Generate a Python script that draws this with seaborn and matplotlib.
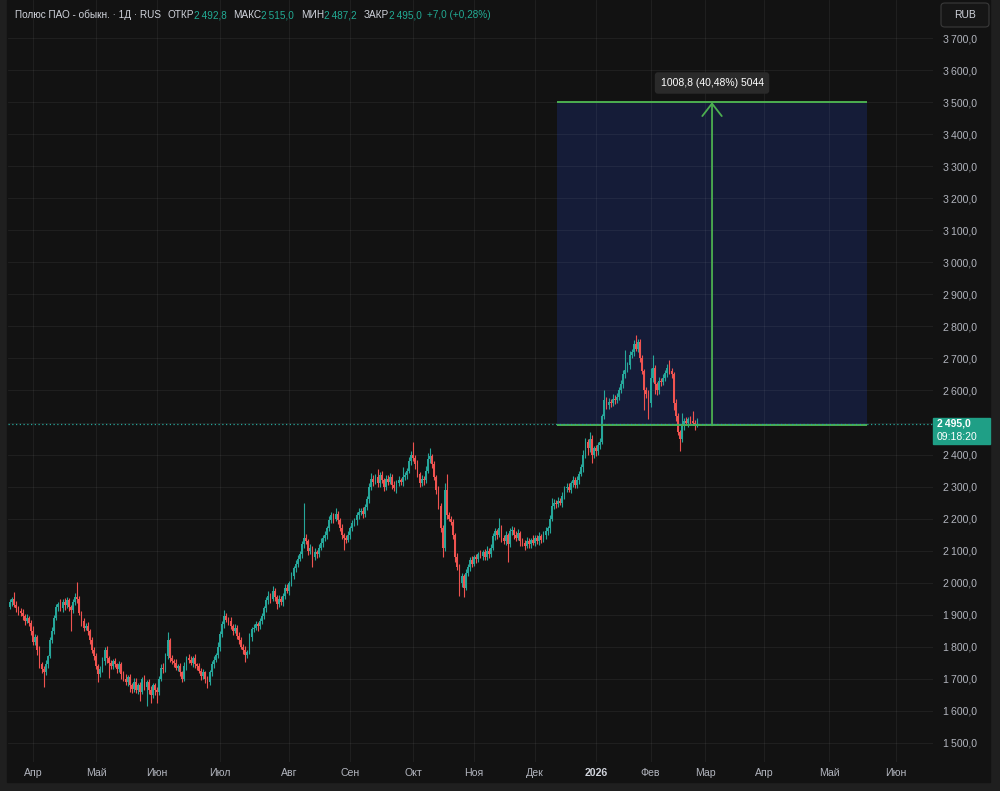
import numpy as np
import pandas as pd
import matplotlib
matplotlib.use("Agg")
import matplotlib.pyplot as plt
from matplotlib.patches import Rectangle, FancyBboxPatch
from matplotlib.ticker import FuncFormatter
import seaborn as sns

# daily candles (open = previous close)
first_open = 1925
closes = [
    1940, 1948, 1930, 1920, 1912, 1905, 1895, 1880, 1890, 1875,
    1850, 1815, 1830, 1790, 1745, 1730, 1720, 1745, 1770, 1820,
    1850, 1890, 1925, 1935, 1920, 1940, 1930, 1945, 1925, 1915,
    1940, 1955, 1950, 1905, 1880, 1860, 1865, 1850, 1820, 1790,
    1770, 1740, 1715, 1730, 1755, 1790, 1765, 1750, 1740, 1755,
    1745, 1730, 1745, 1715, 1700, 1690, 1705, 1680, 1670, 1690,
    1665, 1680, 1660, 1700, 1675, 1690, 1665, 1650, 1680, 1665,
    1660, 1700, 1735, 1730, 1770, 1820, 1765, 1755, 1750, 1735,
    1740, 1720, 1700, 1740, 1765, 1760, 1750, 1765, 1745, 1740,
    1725, 1710, 1720, 1700, 1690, 1720, 1745, 1760, 1775, 1800,
    1840, 1870, 1895, 1885, 1880, 1865, 1850, 1860, 1835, 1820,
    1800, 1790, 1775, 1785, 1830, 1855, 1860, 1870, 1865, 1880,
    1895, 1920, 1945, 1960, 1950, 1975, 1955, 1935, 1950, 1940,
    1960, 1985, 1975, 2000, 2020, 2045, 2060, 2075, 2090, 2120,
    2140, 2130, 2100, 2110, 2080, 2095, 2090, 2110, 2125, 2140,
    2150, 2170, 2195, 2210, 2200, 2215, 2195, 2170, 2150, 2140,
    2135, 2150, 2170, 2185, 2195, 2210, 2220, 2225, 2215, 2235,
    2260, 2300, 2325, 2315, 2330, 2310, 2335, 2320, 2300, 2325,
    2315, 2330, 2305, 2295, 2310, 2320, 2315, 2330, 2335, 2350,
    2380, 2400, 2390, 2370, 2340, 2310, 2325, 2320, 2350, 2385,
    2395, 2370, 2330, 2290, 2240, 2170, 2110, 2290, 2210, 2200,
    2190, 2150, 2080, 2050, 2000, 2020, 1985, 2030, 2050, 2070,
    2060, 2080, 2075, 2090, 2085, 2095, 2080, 2100, 2090, 2110,
    2145, 2160, 2150, 2170, 2140, 2130, 2150, 2120, 2160, 2165,
    2150, 2140, 2155, 2130, 2125, 2115, 2130, 2120, 2135, 2125,
    2140, 2130, 2145, 2135, 2150, 2160, 2170, 2200, 2240, 2250,
    2245, 2255, 2250, 2270, 2295, 2300, 2290, 2310, 2320, 2305,
    2320, 2340, 2360, 2400, 2440, 2420, 2450, 2400, 2420, 2410,
    2430, 2440, 2520, 2570, 2555, 2565, 2560, 2575, 2570, 2580,
    2600, 2620, 2650, 2665, 2680, 2710, 2720, 2745, 2730, 2750,
    2700, 2660, 2600, 2590, 2560, 2640, 2670, 2620, 2600, 2630,
    2625, 2640, 2655, 2670, 2660, 2650, 2560, 2520, 2470, 2450,
    2490, 2505, 2500, 2510, 2505, 2500, 2488, 2495,
]
wick_up = [
    10, 8, 24, 12, 6, 10, 14, 8, 12, 6,
    8, 15, 10, 6, 12, 8, 10, 14, 6, 10,
    12, 8, 10, 6, 14, 8, 12, 10, 8, 6,
    10, 12, 48, 8, 6, 10, 8, 12, 6, 10,
    8, 12, 6, 10, 14, 8, 12, 6, 10, 8,
    10, 6, 12, 8, 10, 14, 6, 10, 8, 12,
    14, 8, 10, 6, 12, 8, 10, 14, 8, 6,
    10, 8, 12, 14, 10, 27, 8, 10, 6, 12,
    8, 10, 6, 12, 8, 14, 10, 8, 12, 6,
    10, 8, 12, 6, 10, 8, 12, 10, 6, 14,
    8, 12, 20, 10, 8, 12, 6, 10, 8, 12,
    10, 8, 12, 6, 14, 8, 10, 12, 8, 10,
    12, 8, 10, 14, 8, 15, 10, 8, 12, 10,
    8, 12, 10, 6, 14, 8, 10, 12, 8, 10,
    110, 12, 8, 10, 6, 12, 8, 10, 14, 8,
    10, 8, 12, 10, 8, 19, 10, 8, 12, 6,
    8, 10, 6, 12, 8, 10, 14, 8, 10, 12,
    10, 12, 18, 10, 8, 25, 10, 14, 8, 12,
    10, 12, 8, 14, 10, 12, 8, 30, 10, 8,
    12, 10, 40, 8, 12, 6, 10, 8, 14, 20,
    25, 8, 10, 6, 12, 8, 10, 20, 50, 12,
    8, 10, 6, 12, 8, 10, 6, 12, 8, 10,
    12, 8, 10, 6, 12, 8, 10, 14, 8, 10,
    10, 12, 8, 33, 10, 8, 12, 6, 10, 12,
    8, 10, 12, 6, 10, 8, 12, 10, 6, 14,
    10, 8, 12, 6, 10, 14, 8, 12, 25, 10,
    8, 12, 10, 14, 8, 12, 10, 8, 14, 10,
    12, 8, 10, 14, 12, 10, 20, 12, 8, 10,
    10, 12, 8, 30, 10, 12, 8, 14, 10, 12,
    10, 12, 14, 60, 10, 12, 8, 14, 28, 10,
    12, 10, 8, 12, 10, 30, 40, 10, 8, 12,
    10, 12, 8, 14, 25, 10, 8, 12, 10, 8,
    40, 10, 12, 8, 10, 30, 8, 20,
]
wick_dn = [
    8, 12, 6, 10, 14, 8, 10, 12, 6, 10,
    12, 10, 8, 14, 10, 12, 45, 8, 10, 6,
    8, 10, 6, 12, 8, 10, 14, 8, 12, 65,
    10, 8, 12, 6, 14, 10, 8, 12, 10, 8,
    12, 10, 25, 8, 10, 12, 14, 47, 10, 8,
    8, 12, 10, 14, 8, 10, 12, 20, 14, 10,
    10, 12, 30, 8, 10, 60, 12, 25, 10, 14,
    35, 10, 8, 12, 10, 8, 12, 10, 14, 8,
    10, 12, 10, 8, 12, 10, 8, 14, 10, 12,
    8, 12, 10, 14, 18, 8, 10, 12, 8, 10,
    12, 8, 10, 6, 12, 10, 14, 8, 12, 10,
    8, 12, 22, 10, 8, 12, 10, 8, 14, 10,
    10, 8, 12, 10, 14, 8, 12, 18, 10, 8,
    12, 10, 8, 14, 10, 8, 12, 10, 8, 12,
    10, 8, 14, 10, 30, 8, 12, 10, 8, 12,
    10, 12, 8, 10, 14, 8, 12, 10, 14, 37,
    10, 8, 12, 10, 8, 14, 10, 8, 12, 10,
    8, 12, 10, 14, 8, 10, 12, 8, 14, 10,
    10, 8, 12, 10, 14, 8, 10, 12, 8, 10,
    8, 12, 10, 14, 10, 12, 8, 14, 10, 8,
    10, 12, 8, 14, 10, 12, 29, 10, 12, 8,
    10, 12, 14, 10, 40, 12, 30, 8, 10, 12,
    10, 8, 12, 10, 8, 14, 10, 8, 12, 10,
    8, 10, 12, 8, 14, 10, 12, 54, 8, 10,
    12, 10, 8, 14, 10, 12, 8, 10, 12, 8,
    10, 8, 12, 10, 8, 12, 10, 14, 8, 10,
    12, 10, 8, 14, 10, 12, 8, 10, 12, 8,
    10, 12, 8, 14, 10, 20, 12, 25, 10, 14,
    10, 12, 8, 10, 14, 12, 10, 8, 12, 10,
    10, 8, 12, 10, 8, 14, 10, 12, 8, 10,
    12, 10, 60, 14, 50, 10, 12, 30, 14, 10,
    12, 8, 10, 14, 10, 12, 20, 14, 10, 40,
    10, 12, 8, 14, 10, 8, 12, 1,
]

# axis labels (bar index of each month start)
month_ticks = [11, 41, 70, 100, 133, 162, 192, 221, 250, 279, 305, 331, 359, 390, 422]
month_labels = ["Апр", "Май", "Июн", "Июл", "Авг", "Сен", "Окт", "Ноя", "Дек",
                "2026", "Фев", "Мар", "Апр", "Май", "Июн"]
price_ticks = list(range(1500, 3701, 100))

# price range measurement drawn on the chart
last_close = 2495.0
measure_low = 2491.2
measure_high = 3500.0
measure_bars = (260.5, 408.0)
measure_arrow_bar = 334.3
measure_text = "1008,8 (40,48%) 5044"

TS = "\u2009"
header_parts = [
    ("Полюс ПАО - обыкн. · 1Д · RUS", "label", 6),
    ("ОТКР", "label", 0), (f"2{TS}492,8", "value", 7),
    ("МАКС", "label", 0), (f"2{TS}515,0", "value", 7),
    ("МИН", "label", 0), (f"2{TS}487,2", "value", 7),
    ("ЗАКР", "label", 0), (f"2{TS}495,0", "value", 5),
    ("+7,0 (+0,28%)", "value", 0),
]

# colours
BG = "#121212"
FRAME = "#1f1f1f"
UP = "#26a69a"
DOWN = "#ef5350"
TXT = "#b2b5be"
HEAD = "#d1d4dc"
GREEN = "#4caf50"
BOX = "#151c38"
GRID = (1, 1, 1, 0.055)

sns.set_theme(style="dark", rc={"axes.facecolor": BG, "figure.facecolor": FRAME,
                                "axes.edgecolor": BG, "text.color": HEAD})
plt.rcParams["font.family"] = ["Liberation Sans", "DejaVu Sans"]

W, H = 1000, 791


def fx(px):
    return px / W


def fy(py):
    return 1 - py / H


fig = plt.figure(figsize=(W / 100, H / 100), dpi=100)
fig.patches.append(Rectangle((fx(7), fy(782)), fx(990) - fx(7), fy(0) - fy(782),
                             transform=fig.transFigure, color=BG, zorder=-5))
ax = fig.add_axes([fx(8), fy(762), fx(933) - fx(8), fy(0) - fy(762)])
ax.set_facecolor(BG)
for s in ax.spines.values():
    s.set_visible(False)

# candles
df = pd.DataFrame({"close": closes})
df["open"] = [first_open] + closes[:-1]
df["high"] = df[["open", "close"]].max(axis=1) + np.array(wick_up)
df["low"] = df[["open", "close"]].min(axis=1) - np.array(wick_dn)
idx = np.arange(len(df))
colors = np.where(df["close"] >= df["open"], UP, DOWN)
ax.vlines(idx, df["low"], df["high"], colors=colors, lw=0.8, zorder=3)
body = np.maximum((df["close"] - df["open"]).abs(), 3)
ax.bar(idx, body, bottom=df[["open", "close"]].min(axis=1), width=0.85,
       color=colors, linewidth=0, zorder=4)

# grid
for p in price_ticks:
    ax.axhline(p, color=GRID, lw=0.8, zorder=1)
for t in month_ticks:
    ax.axvline(t, color=GRID, lw=0.8, zorder=1)

# measurement box
x0, x1 = measure_bars
ax.add_patch(Rectangle((x0, measure_low), x1 - x0, measure_high - measure_low,
                       color=BOX, lw=0, zorder=0.5))
ax.hlines([measure_low, measure_high], x0, x1, color=GREEN, lw=1.4, zorder=5)
ax.annotate("", xy=(measure_arrow_bar, measure_high), xytext=(measure_arrow_bar, measure_low),
            arrowprops=dict(arrowstyle="->,head_length=0.45,head_width=0.35", color=GREEN,
                            lw=1.3, shrinkA=0, shrinkB=0, mutation_scale=20), zorder=5)
ax.text(measure_arrow_bar, 3559.6, measure_text, ha="center", va="center", color="white",
        fontsize=7.5, zorder=6,
        bbox=dict(boxstyle="round,pad=0.55,rounding_size=0.3", fc="#2a2a2a", ec="none"))

# last price line
ax.axhline(last_close, color=UP, lw=0.9, ls=(0, (1, 2)), zorder=5)

ax.set_xlim((8 - 10) / 2.1, (933 - 10) / 2.1)
ax.set_ylim(3700 - (762 - 38) * 3.1206, 3700 + 38 * 3.1206)

# axes ticks
ax.yaxis.tick_right()
ax.set_yticks(price_ticks)
ax.yaxis.set_major_formatter(FuncFormatter(
    lambda v, _: "" if v == 2500 else f"{int(v) // 1000}{TS}{int(v) % 1000:03d},0"))
ax.tick_params(axis="y", length=0, pad=7.5, labelsize=7.6, labelcolor=TXT)
ax.set_xticks(month_ticks)
ax.set_xticklabels(month_labels)
ax.tick_params(axis="x", length=0, pad=4, labelsize=7.6, labelcolor=TXT)
for lab in ax.get_xticklabels():
    if lab.get_text() == "2026":
        lab.set_color(HEAD)
        lab.set_fontweight("bold")
ax.grid(False)

# price label on the scale
fig.patches.append(Rectangle((fx(933), fy(444)), fx(990) - fx(933), fy(418) - fy(444),
                             transform=fig.transFigure, color="#1f9f86", zorder=5))
fig.text(fx(937), fy(424), f"2{TS}495,0", color="white", fontsize=7.5,
         fontweight="bold", va="center", ha="left", zorder=6)
fig.text(fx(937), fy(437.5), "09:18:20", color="white", fontsize=7.5,
         va="center", ha="left", zorder=6)

# currency button
fig.patches.append(FancyBboxPatch((fx(941), fy(27)), fx(989) - fx(941), fy(3) - fy(27),
                                  boxstyle="round,pad=0,rounding_size=0.004",
                                  transform=fig.transFigure, fc="#161616", ec="#3a3a3a",
                                  lw=0.8, zorder=5))
fig.text(fx(965), fy(15), "RUB", color=HEAD, fontsize=7.5, ha="center", va="center", zorder=6)

# header legend
renderer = fig.canvas.get_renderer()
x = 15
for txt, kind, gap in header_parts:
    t = fig.text(fx(x), fy(15), txt, color=HEAD if kind == "label" else "#22ab94",
                 fontsize=7.2, va="center", ha="left", zorder=6)
    x += t.get_window_extent(renderer).width + gap

fig.savefig("out.png", dpi=100, facecolor=fig.get_facecolor())
